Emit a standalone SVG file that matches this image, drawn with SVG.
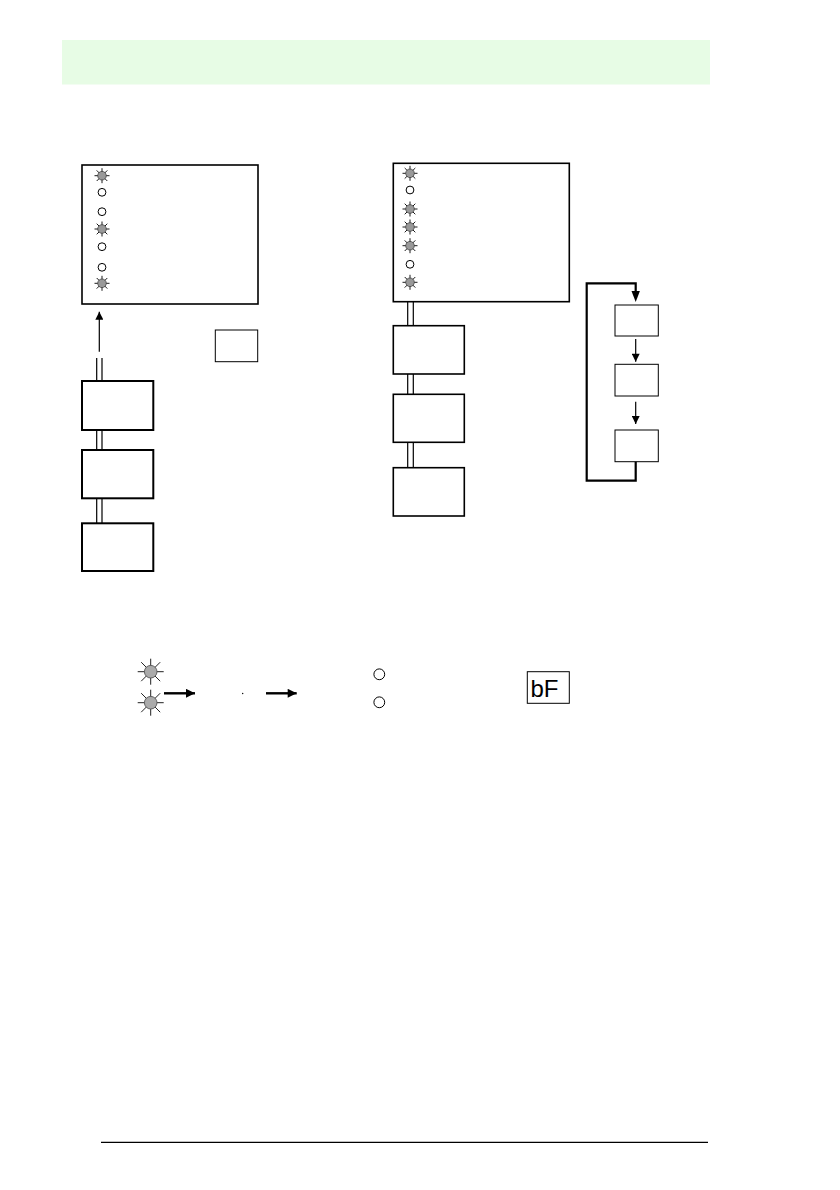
<svg xmlns="http://www.w3.org/2000/svg" xmlns:xlink="http://www.w3.org/1999/xlink" width="840" height="1190" viewBox="0 0 840 1190">
<style>
.box{fill:#fff;stroke:#000;stroke-width:1.6}
.tbox{fill:#fff;stroke:#000;stroke-width:2}
.thin{fill:#fff;stroke:#000;stroke-width:1}
.dl{stroke:#000;stroke-width:1.2;fill:none}
.ln{stroke:#000;stroke-width:1.2;fill:none}
.loop{stroke:#000;stroke-width:2.2;fill:none}
.thick{stroke:#000;stroke-width:2.4;fill:none}
.seg{font-family:"Liberation Sans",Arial,sans-serif;font-size:24px;fill:#000}
</style>
<defs>
<g id="ledOn">
<path d="M-7.5,0H7.5M0,-7.5V7.5M-5.3,-5.3L5.3,5.3M-5.3,5.3L5.3,-5.3" stroke="#000" stroke-width="0.9"/>
<circle r="4.3" fill="#999" stroke="#333" stroke-width="0.7"/>
</g>
<g id="ledOff"><circle r="3.9" fill="#fff" stroke="#000" stroke-width="1"/></g>
<g id="bigOn">
<path d="M-13,0H13M0,-13V13M-9.5,-9.5L9.5,9.5M-9.5,9.5L9.5,-9.5" stroke="#222" stroke-width="1"/>
<circle r="6.3" fill="#aaa" stroke="#555" stroke-width="0.9"/>
</g>
<g id="bigOff"><circle r="5.4" fill="#fff" stroke="#000" stroke-width="1"/></g>
<marker id="ah" viewBox="0 0 10 10" refX="10" refY="5" markerWidth="11" markerHeight="8" markerUnits="userSpaceOnUse" orient="auto"><path d="M0,0L10,5L0,10z" fill="#000"/></marker>
<marker id="ah2" viewBox="0 0 10 10" refX="10" refY="5" markerWidth="11" markerHeight="9" markerUnits="userSpaceOnUse" orient="auto"><path d="M0,0L10,5L0,10z" fill="#000"/></marker>
</defs>
<rect width="840" height="1190" fill="#fff"/>
<rect id="header" x="62" y="40" width="648" height="44.5" fill="#e7fce5"/>
<g id="panelLeft">
<rect class="box" x="82" y="165" width="176" height="139"/>
<use xlink:href="#ledOn" x="102" y="175.7"/>
<use xlink:href="#ledOff" x="102" y="192.3"/>
<use xlink:href="#ledOff" x="102" y="211.7"/>
<use xlink:href="#ledOn" x="102" y="229"/>
<use xlink:href="#ledOff" x="102" y="246.7"/>
<use xlink:href="#ledOff" x="102" y="267.3"/>
<use xlink:href="#ledOn" x="102" y="283.3"/>
</g>
<g id="panelRight">
<rect class="box" x="393.3" y="163.3" width="176" height="138.4"/>
<use xlink:href="#ledOn" x="410" y="173.3"/>
<use xlink:href="#ledOff" x="410" y="190"/>
<use xlink:href="#ledOn" x="410" y="209"/>
<use xlink:href="#ledOn" x="410" y="227"/>
<use xlink:href="#ledOn" x="410" y="245.7"/>
<use xlink:href="#ledOff" x="410" y="264.3"/>
<use xlink:href="#ledOn" x="410" y="282.3"/>
</g>
<g id="smallBox"><rect class="thin" x="215.3" y="330" width="42.4" height="31.7"/></g>
<g id="leftBox1"><rect class="tbox" x="82" y="381" width="71.3" height="49"/></g>
<g id="leftBox2"><rect class="tbox" x="82" y="450" width="71.3" height="48.3"/></g>
<g id="leftBox3"><rect class="tbox" x="82" y="523.3" width="71.3" height="47.7"/></g>
<g id="rightBox1"><rect class="box" x="393.3" y="325.7" width="71" height="48.3"/></g>
<g id="rightBox2"><rect class="box" x="393.3" y="394.3" width="71" height="48"/></g>
<g id="rightBox3"><rect class="box" x="393.3" y="467.7" width="71" height="48.3"/></g>
<g id="loopBox1"><rect class="thin" x="615" y="305" width="43.3" height="31"/></g>
<g id="loopBox2"><rect class="thin" x="615" y="364.3" width="43.3" height="31.7"/></g>
<g id="loopBox3"><rect class="thin" x="615" y="430" width="43.3" height="31.7"/></g>
<g id="displayBox">
<rect class="thin" x="527.3" y="671.7" width="42" height="31.6"/>
<text class="seg" x="530.5" y="697">bF</text>
</g>
<g id="bottomLeds">
<use xlink:href="#bigOn" x="150.7" y="671.7"/>
<use xlink:href="#bigOn" x="150.7" y="702.7"/>
<use xlink:href="#bigOff" x="379.3" y="674.3"/>
<use xlink:href="#bigOff" x="379.3" y="702.3"/>
<circle cx="242.7" cy="693.5" r="0.7" fill="#000"/>
</g>
<g id="connectors">
<line class="ln" x1="99.3" y1="351.7" x2="99.3" y2="311.7" marker-end="url(#ah)"/>
<path class="dl" d="M96.7,358V381M102,358V381M96.7,430V450M102,430V450M96.7,498.3V523.3M102,498.3V523.3"/>
<path class="dl" d="M407.7,301.7V325.7M413.3,301.7V325.7M407.7,374V394.3M413.3,374V394.3M407.7,442.3V467.7M413.3,442.3V467.7"/>
<path class="loop" d="M635.7,461.7V480.7H586.7V283.3H635.7V292"/>
<path d="M631.5,291L639.9,291L635.7,302z" fill="#000"/>
<line class="ln" x1="635.7" y1="339" x2="635.7" y2="361.7" marker-end="url(#ah)"/>
<line class="ln" x1="635.7" y1="401.7" x2="635.7" y2="424" marker-end="url(#ah)"/>
<line class="thick" x1="164" y1="693.3" x2="195" y2="693.3" marker-end="url(#ah2)"/>
<line class="thick" x1="266" y1="693.3" x2="296.7" y2="693.3" marker-end="url(#ah2)"/>
</g>
<line id="footer" x1="101" y1="1142.3" x2="708" y2="1142.3" stroke="#000" stroke-width="1.3"/>
</svg>
